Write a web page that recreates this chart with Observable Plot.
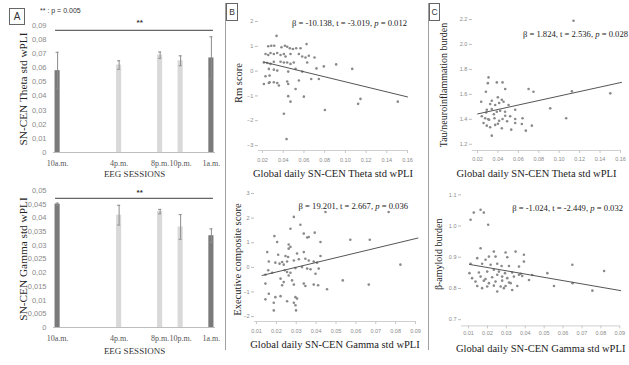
<!DOCTYPE html>
<html>
<head>
<meta charset="utf-8">
<script src="https://cdn.jsdelivr.net/npm/d3@7"></script>
<script src="https://cdn.jsdelivr.net/npm/@observablehq/plot@0.6"></script>
<style>
  body { margin: 0; background: #fff; }
  #fig { position: relative; width: 629px; height: 365px; overflow: hidden; background: #fff; }
  #fig svg { position: absolute; }
  .ann { position: absolute; font-family: "Liberation Serif", "Times New Roman", serif; font-size: 8.6px; color: #222; white-space: nowrap; line-height: 12px; }
  .note { position: absolute; font-family: "Liberation Sans", Arial, sans-serif; font-size: 7px; color: #333; white-space: nowrap; line-height: 10px; }
  .box { position: absolute; box-sizing: border-box; border: 1px solid #666; font-family: "Liberation Sans", Arial, sans-serif; color: #333; text-align: center; background: #fff; }
  .vline { position: absolute; width: 1px; background: #a0a0a0; }
</style>
</head>
<body>
<div id="fig">
  <div class="vline" style="left:225px;top:3px;height:347px"></div>
  <div class="vline" style="left:428px;top:3px;height:347px"></div>
  <div class="box" style="left:9px;top:8px;width:16px;height:17px;font-size:10px;line-height:15px">A</div>
  <div class="box" style="left:226px;top:3px;width:12px;height:18px;font-size:8.5px;line-height:16px">B</div>
  <div class="box" style="left:429px;top:3px;width:11px;height:18px;font-size:8.5px;line-height:16px">C</div>
  <div class="note" style="left:40px;top:6px">** : p = 0.005</div>
  <div class="ann" style="right:222px;top:17px">β = -10.138, t = -3.019, <i>p</i> = 0.012</div>
  <div class="ann" style="right:221px;top:200px">β = 19.201, t = 2.667, <i>p</i> = 0.036</div>
  <div class="ann" style="right:1px;top:28px">β = 1.824, t = 2.536, <i>p</i> = 0.028</div>
  <div class="ann" style="right:6px;top:202px">β = -1.024, t = -2.449, <i>p</i> = 0.032</div>
</div>
<script>
// ---------- Panel A data ----------
const sessions = ["10a.m.", "4p.m.", "8p.m.", "10p.m.", "1a.m."];
const sessionHours = [10, 16, 20, 22, 25];
const sessionShade = ["dark", "light", "light", "light", "dark"];
const thetaMean = [0.058, 0.062, 0.069, 0.065, 0.067];
const thetaErr = [0.013, 0.003, 0.0022, 0.0035, 0.015];
const gammaMean = [0.045, 0.041, 0.0423, 0.0367, 0.0335];
const gammaErr = [0.0004, 0.0036, 0.0008, 0.0045, 0.0025];
const thetaTicks = [0, 0.01, 0.02, 0.03, 0.04, 0.05, 0.06, 0.07, 0.08, 0.09];
const gammaTicks = [0, 0.005, 0.01, 0.015, 0.02, 0.025, 0.03, 0.035, 0.04, 0.045, 0.05];

// ---------- Panel B top: Rm score vs theta ----------
const rmTheta = [0.0255,0.0284,0.0313,0.0383,0.0416,0.0438,0.0464,0.0493,0.0525,0.0567,0.0625,0.0335,
  0.0229,0.0255,0.0277,0.0309,0.0342,0.0374,0.0406,0.0422,0.0470,0.0551,0.0583,0.0615,0.0647,0.0702,
  0.0213,0.0245,0.0277,0.0309,0.0374,0.0406,0.0438,0.0470,0.0502,0.0631,0.0721,0.0792,0.0911,0.1066,
  0.0261,0.0309,0.0342,0.0448,0.0519,0.0583,
  0.0229,0.0268,0.0213,0.0261,0.0309,0.0342,0.0358,0.0438,0.0448,0.0551,0.0670,0.0744,0.0268,
  0.0519,0.0448,0.0470,0.0599,0.1146,0.1123,0.1506,0.0802,0.0406,0.0432];
const rmScore = [1.00,1.02,1.02,0.96,1.02,0.98,0.92,0.89,0.92,0.92,1.09,1.42,
  0.69,0.65,0.73,0.69,0.73,0.65,0.69,0.59,0.69,0.69,0.59,0.55,0.62,0.55,
  0.35,0.33,0.29,0.38,0.38,0.35,0.35,0.29,0.35,0.35,0.11,0.19,0.27,0.09,
  0.09,0.06,0.02,-0.02,0.09,-0.02,
  -0.21,-0.18,-0.52,-0.48,-0.45,-0.48,-0.58,-0.42,-0.52,-0.38,-0.32,-0.32,-0.45,
  -0.72,-1.01,-1.23,-1.03,-1.12,-1.32,-1.23,-1.57,-1.72,-2.74];
const rmFitX = [0.021, 0.16];
const rmFitY = [0.37, -1.04];

// ---------- Panel B bottom: executive score vs gamma ----------
const execGamma = [0.0288,0.0447,0.0765,0.0271,0.0321,0.0338,0.0355,0.0363,0.0393,0.0422,0.0572,0.0670,0.0190,0.0204,0.0262,0.0271,0.0262,
  0.0154,0.0209,0.0246,0.0259,0.0304,0.0338,
  0.0162,0.0195,0.0216,0.0229,0.0237,0.0254,0.0288,0.0313,0.0346,0.0363,0.0388,0.0405,0.0422,
  0.0824,
  0.0145,0.0159,0.0179,0.0242,0.0254,0.0271,0.0296,0.0329,0.0355,0.0372,0.0413,0.0397,
  0.0221,0.0237,0.0262,0.0279,
  0.0145,0.0229,0.0288,0.0338,0.0346,0.0388,0.0410,0.0455,0.0534,0.0665,
  0.0162,0.0195,0.0221,0.0296,0.0304,
  0.0145,0.0254,0.0288,0.0296,0.0187,0.0187,0.0299];
const execScore = [2.05,2.25,2.25,1.57,1.73,1.37,1.21,1.23,1.41,1.03,1.12,1.12,1.27,1.03,0.93,0.83,0.76,
  0.62,0.51,0.46,0.42,0.56,0.62,
  0.24,0.19,0.15,0.22,0.11,0.24,0.28,0.33,0.35,0.28,0.24,0.19,0.46,
  0.11,
  -0.30,-0.12,-0.22,-0.12,-0.19,-0.22,-0.03,0.01,-0.05,-0.08,-0.05,-0.26,
  -0.46,-0.60,-0.33,-0.53,
  -0.66,-0.73,-0.70,-0.66,-0.76,-0.70,-0.73,-0.89,-0.53,-0.70,
  -1.07,-1.21,-1.17,-1.21,-1.27,
  -1.30,-1.38,-1.44,-1.54,-1.44,-1.75,-1.75];
const execFitX = [0.0128, 0.0912];
const execFitY = [-0.33, 1.19];

// ---------- Panel C top: tau burden vs theta ----------
const tauTheta = [0.114,0.0308,0.0301,0.0389,0.0445,0.0471,0.0282,0.070,0.0748,0.1124,0.150,
  0.0399,0.034,0.0438,0.0324,0.0373,0.0412,0.0455,0.0504,0.0236,
  0.0291,0.034,0.0389,0.0422,0.0569,0.0912,
  0.0242,0.0275,0.0314,0.0366,0.0412,0.0445,0.0471,0.052,0.0569,0.0641,0.1068,
  0.0259,0.0291,0.0324,0.0373,0.0438,0.053,0.0569,0.0634,0.0673,0.0732,0.034,
  0.0285,0.036,0.047,0.0305,0.040,0.049];
const tauBurden = [2.19,1.736,1.69,1.696,1.696,1.643,1.621,1.643,1.621,1.624,1.608,
  1.576,1.549,1.557,1.523,1.515,1.531,1.541,1.515,1.541,
  1.477,1.483,1.461,1.469,1.477,1.488,
  1.424,1.408,1.397,1.408,1.389,1.403,1.429,1.424,1.403,1.408,1.408,
  1.371,1.349,1.336,1.355,1.328,1.317,1.371,1.363,1.309,1.349,1.269,
  1.455,1.44,1.46,1.40,1.365,1.385];
const tauFitX = [0.0201, 0.161];
const tauFitY = [1.443, 1.696];

// ---------- Panel C bottom: amyloid burden vs gamma ----------
const amyGamma = [0.0128,0.0164,0.0181,0.0111,0.0204,0.0164,
  0.0234,0.0296,0.0349,0.0208,0.0243,0.0305,0.0393,0.0146,0.019,
  0.0111,0.0172,0.0217,0.0252,0.0275,0.0314,0.0367,0.0393,0.0649,0.0817,
  0.0105,0.0155,0.0199,0.0234,0.0261,0.0293,0.0331,0.0367,0.0384,0.0437,0.0517,
  0.0119,0.0164,0.019,0.0225,0.0252,0.0278,0.0305,0.034,0.0376,
  0.0137,0.0181,0.0208,0.0243,0.0278,0.0314,0.042,
  0.0146,0.0199,0.0234,0.0270,0.0296,0.0323,0.0358,
  0.0172,0.0252,0.0287,0.0331,0.0552,0.0755,0.065];
const amyBurden = [1.043,1.052,1.043,1.020,1.004,0.929,
  0.918,0.915,0.918,0.902,0.902,0.900,0.908,0.897,0.892,
  0.879,0.879,0.876,0.879,0.872,0.872,0.870,0.886,0.876,0.856,
  0.849,0.851,0.854,0.860,0.854,0.849,0.851,0.844,0.840,0.843,0.849,
  0.833,0.838,0.830,0.836,0.844,0.838,0.833,0.838,0.847,
  0.822,0.825,0.817,0.822,0.825,0.819,0.827,
  0.808,0.806,0.809,0.806,0.808,0.817,0.808,
  0.801,0.790,0.801,0.795,0.808,0.793,0.817];
const amyFitX = [0.0105, 0.0905];
const amyFitY = [0.877, 0.793];

const sans = "'Liberation Sans', Arial, sans-serif";
const serif = "'Liberation Serif', 'Times New Roman', serif";
const fig = document.getElementById("fig");

function place(svg, left, top) {
  svg.style.position = "absolute";
  svg.style.left = left + "px";
  svg.style.top = top + "px";
  fig.appendChild(svg);
}

function barPanel({means, errs, ticks, tickFmt, yMax, yLabel, sigY, starY, height, marginTop, marginBottom, titleDy}) {
  const rows = sessions.map((s, i) => ({session: s, hour: sessionHours[i], shade: sessionShade[i], mean: means[i], err: errs[i]}));
  return Plot.plot({
    width: 222, height, marginLeft: 53, marginRight: 7, marginTop, marginBottom,
    style: {background: "transparent", overflow: "visible", fontFamily: sans},
    x: {domain: [9.6, 25.4]},
    y: {domain: [0, yMax]},
    marks: [
      Plot.axisY({ticks, tickFormat: tickFmt, tickSize: 0, tickPadding: 7, fontSize: 7.5, fill: "#8a8a8a", label: null}),
      Plot.axisX({ticks: sessionHours, tickFormat: h => sessions[sessionHours.indexOf(h)], tickSize: 0, tickPadding: 8, fontSize: 8, fontFamily: serif, fill: "#555", label: null}),
      Plot.ruleY([0], {stroke: "#bdbdbd"}),
      Plot.rectY(rows, {filter: d => d.shade === "dark", x1: d => d.hour - 0.25, x2: d => d.hour + 0.25, y1: 0, y2: "mean", fill: "#7a7a7a"}),
      Plot.rectY(rows, {filter: d => d.shade === "light", x1: d => d.hour - 0.25, x2: d => d.hour + 0.25, y1: 0, y2: "mean", fill: "#d9d9d9"}),
      Plot.ruleX(rows, {x: "hour", y1: d => d.mean - d.err, y2: d => d.mean + d.err, stroke: "#8c8c8c"}),
      Plot.ruleY(rows, {y: d => d.mean + d.err, x1: d => d.hour - 0.15, x2: d => d.hour + 0.15, stroke: "#8c8c8c"}),
      Plot.ruleY(rows, {y: d => d.mean - d.err, x1: d => d.hour - 0.15, x2: d => d.hour + 0.15, stroke: "#8c8c8c"}),
      Plot.ruleY([sigY], {x1: 9.8, x2: 25.2, stroke: "#666", strokeWidth: 1.2}),
      Plot.text(["**"], {text: d => d, x: 18, y: starY, fontSize: 8, fontWeight: "bold", fill: "#333"}),
      Plot.text(["EEG SESSIONS"], {text: d => d, frameAnchor: "bottom", textAnchor: "middle", lineAnchor: "middle", dy: titleDy, fontSize: 9, fontFamily: serif, fill: "#333"}),
      Plot.text([yLabel], {text: d => d, frameAnchor: "left", textAnchor: "middle", lineAnchor: "middle", rotate: -90, dx: -30, fontSize: 11.3, fontFamily: serif, fill: "#222"})
    ]
  });
}

function scatterPanel({xs, ys, fitX, fitY, xDomain, yDomain, xTicks, yTicks, xFmt, yFmt, width, height, margins, xLabel, yLabel, xLabelDx, yLabelDx, yLabelDy, yLabelSize, xTickPad}) {
  const idx = d3.range(xs.length);
  return Plot.plot({
    width, height,
    marginLeft: margins[0], marginRight: margins[1], marginTop: margins[2], marginBottom: margins[3],
    style: {background: "transparent", overflow: "visible", fontFamily: sans},
    x: {domain: xDomain},
    y: {domain: yDomain},
    marks: [
      Plot.ruleY([yDomain[0]], {stroke: "#cfcfcf"}),
      Plot.axisX({ticks: xTicks, tickFormat: xFmt, tickSize: 3, tickPadding: xTickPad, fontSize: 5.5, fill: "#8a8a8a", stroke: "#c8c8c8", label: null}),
      Plot.axisY({ticks: yTicks, tickFormat: yFmt, tickSize: 3, tickPadding: 2, fontSize: 5.5, fill: "#8a8a8a", stroke: "#bdbdbd", label: null}),
      Plot.dot(idx, {x: i => xs[i], y: i => ys[i], r: 1.3, fill: "#8a8a8a"}),
      Plot.line([0, 1], {x: i => fitX[i], y: i => fitY[i], stroke: "#555", strokeWidth: 1}),
      Plot.text([xLabel], {text: d => d, frameAnchor: "bottom", textAnchor: "middle", lineAnchor: "middle", dy: 23, dx: xLabelDx, fontSize: 10.5, fontFamily: serif, fill: "#222"}),
      Plot.text([yLabel], {text: d => d, frameAnchor: "left", textAnchor: "middle", lineAnchor: "middle", rotate: -90, dx: yLabelDx, dy: yLabelDy, fontSize: yLabelSize, fontFamily: serif, fill: "#222"})
    ]
  });
}

// Panel A top
place(barPanel({
  means: thetaMean, errs: thetaErr, ticks: thetaTicks,
  tickFmt: d => d === 0 ? "0" : d.toFixed(2).replace(".", ","),
  yMax: 0.09, yLabel: "SN-CEN Theta std wPLI", sigY: 0.0865, starY: 0.0925,
  height: 180, marginTop: 25, marginBottom: 28, titleDy: 22
}), 0, 0);

// Panel A bottom
place(barPanel({
  means: gammaMean, errs: gammaErr, ticks: gammaTicks,
  tickFmt: d => d === 0 ? "0" : String(+d.toFixed(3)).replace(".", ","),
  yMax: 0.05, yLabel: "SN-CEN Gamma std wPLI", sigY: 0.0471, starY: 0.0493,
  height: 187, marginTop: 12, marginBottom: 38, titleDy: 24
}), 0, 178);

// Panel B top
place(scatterPanel({
  xs: rmTheta, ys: rmScore, fitX: rmFitX, fitY: rmFitY,
  xDomain: [0.016, 0.16], yDomain: [-3.2, 2],
  xTicks: [0.02, 0.04, 0.06, 0.08, 0.10, 0.12, 0.14, 0.16], yTicks: [-3, -2, -1, 0, 1, 2],
  xFmt: d3.format(".2f"), yFmt: d3.format("d"),
  width: 200, height: 180, margins: [29.9, 21, 21, 30],
  xLabel: "Global daily SN-CEN Theta std wPLI", yLabel: "Rm score",
  xLabelDx: 0, yLabelDx: -20, yLabelDy: -3, yLabelSize: 10.5, xTickPad: 5
}), 228, 0);

// Panel B bottom
place(scatterPanel({
  xs: execGamma, ys: execScore, fitX: execFitX, fitY: execFitY,
  xDomain: [0.009, 0.09], yDomain: [-2.2, 3],
  xTicks: [0.01, 0.02, 0.03, 0.04, 0.05, 0.06, 0.07, 0.08, 0.09], yTicks: [-2, -1, 0, 1, 2, 3],
  xFmt: d3.format(".2f"), yFmt: d3.format("d"),
  width: 200, height: 185, margins: [26, 13, 13, 44],
  xLabel: "Global daily SN-CEN Gamma std wPLI", yLabel: "Executive composite score",
  xLabelDx: 0, yLabelDx: -17, yLabelDy: 2, yLabelSize: 10.5, xTickPad: 5
}), 228, 180);

// Panel C top
place(scatterPanel({
  xs: tauTheta, ys: tauBurden, fitX: tauFitX, fitY: tauFitY,
  xDomain: [0.015, 0.16], yDomain: [1.15, 2.2],
  xTicks: [0.02, 0.04, 0.06, 0.08, 0.10, 0.12, 0.14, 0.16], yTicks: [1.2, 1.4, 1.6, 1.8, 2.0, 2.2],
  xFmt: d3.format(".2f"), yFmt: d3.format(".1f"),
  width: 199, height: 180, margins: [41.9, 9, 19, 30],
  xLabel: "Global daily SN-CEN Theta std wPLI", yLabel: "Tau/neuroinflammation burden",
  xLabelDx: -10, yLabelDx: -29, yLabelDy: 0, yLabelSize: 10, xTickPad: 4
}), 430, 0);

// Panel C bottom
place(scatterPanel({
  xs: amyGamma, ys: amyBurden, fitX: amyFitX, fitY: amyFitY,
  xDomain: [0.0063, 0.09], yDomain: [0.68, 1.1],
  xTicks: [0.01, 0.02, 0.03, 0.04, 0.05, 0.06, 0.07, 0.08, 0.09], yTicks: [0.7, 0.8, 0.9, 1.0, 1.1],
  xFmt: d3.format(".2f"), yFmt: d3.format(".1f"),
  width: 199, height: 185, margins: [31, 9.7, 14.3, 39.6],
  xLabel: "Global daily SN-CEN Gamma std wPLI", yLabel: "β-amyloid burden",
  xLabelDx: 0, yLabelDx: -23, yLabelDy: -6, yLabelSize: 10, xTickPad: 2
}), 430, 180);
</script>
</body>
</html>
